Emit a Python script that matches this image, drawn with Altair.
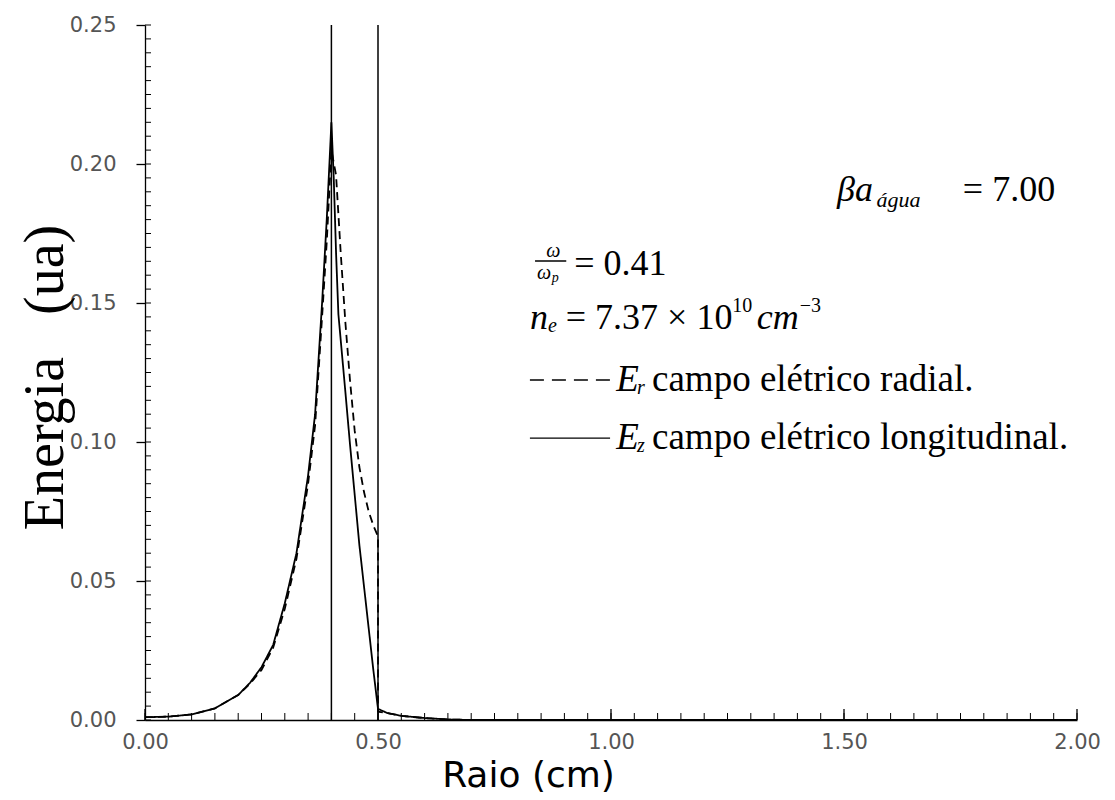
import altair as alt
import pandas as pd
import numpy as np

# ---- data ----
r_ez = [0.00, 0.05, 0.10, 0.15, 0.20, 0.225, 0.25, 0.275, 0.30, 0.325, 0.35, 0.365, 0.38, 0.39, 0.40,
        0.405, 0.41, 0.415, 0.43, 0.44, 0.45, 0.46, 0.47, 0.48, 0.49, 0.50,
        0.52, 0.55, 0.60, 0.65, 0.70, 1.00, 1.50, 2.00]
ez = [0.001, 0.0012, 0.002, 0.0042, 0.009, 0.0133, 0.019, 0.027, 0.042, 0.060, 0.088, 0.110, 0.150, 0.180, 0.215,
      0.195, 0.168, 0.146, 0.118, 0.099, 0.081, 0.063, 0.048, 0.033, 0.018, 0.004,
      0.0025, 0.0015, 0.0007, 0.0002, 0.0, 0.0, 0.0, 0.0]

r_er = [0.00, 0.05, 0.10, 0.15, 0.20, 0.225, 0.25, 0.275, 0.30, 0.325, 0.35, 0.365, 0.38, 0.39, 0.40,
        0.41, 0.42, 0.43, 0.44, 0.45, 0.46, 0.47, 0.48, 0.49, 0.50, 0.50,
        0.52, 0.55, 0.60, 0.65, 0.70, 1.00, 1.50, 2.00]
er = [0.001, 0.0012, 0.002, 0.0042, 0.009, 0.013, 0.018, 0.026, 0.040, 0.058, 0.085, 0.106, 0.145, 0.172, 0.205,
      0.196, 0.168, 0.143, 0.122, 0.104, 0.091, 0.082, 0.075, 0.070, 0.066, 0.003,
      0.0025, 0.0015, 0.0007, 0.0002, 0.0, 0.0, 0.0, 0.0]

boundaries = [0.40, 0.50]
x_ticks = [0.0, 0.5, 1.0, 1.5, 2.0]
y_ticks = [0.00, 0.05, 0.10, 0.15, 0.20, 0.25]

W, H = 932, 695

df = pd.concat([
    pd.DataFrame({"r": r_er, "E": er, "serie": "Er", "i": range(len(r_er))}),
    pd.DataFrame({"r": r_ez, "E": ez, "serie": "Ez", "i": range(len(r_ez))}),
])

xs = alt.Scale(domain=[0, 2], nice=False, zero=False)
ys = alt.Scale(domain=[0, 0.25], nice=False, zero=False)

NB = "\u00a0"
tick_font = "DejaVu Sans"
xaxis = alt.Axis(values=x_ticks, format=".2f", ticks=False, grid=False, domainColor="black",
                 domainWidth=1.3, labelFont=tick_font, labelFontSize=21, labelColor="#555",
                 labelPadding=11, title="Raio (cm)", titleFont="DejaVu Sans", titleFontSize=36,
                 titleFontWeight="normal", titleColor="black", titleX=383, titleY=55,
                 titleBaseline="middle", labelFlush=False)
yaxis = alt.Axis(values=y_ticks, format=".2f", tickSize=9, tickColor="black", tickWidth=1.3,
                 grid=False, domainColor="black", domainWidth=1.3, labelFont=tick_font,
                 labelFontSize=21, labelColor="#555", labelPadding=20,
                 title="Energia" + NB * 3 + "(ua)",
                 titleFont="Liberation Serif", titleFontSize=56, titleFontWeight="normal",
                 titleColor="black", titleX=-100, titleY=352, titleBaseline="middle",
                 titleAngle=270)

X = lambda f: alt.X(f, scale=xs, axis=xaxis)
Y = lambda f: alt.Y(f, scale=ys, axis=yaxis)

lines = alt.Chart(df).mark_line(color="black", strokeWidth=1.8).encode(
    x=X("r:Q"),
    y=Y("E:Q"),
    strokeDash=alt.StrokeDash("serie:N", scale=alt.Scale(domain=["Er", "Ez"], range=[[8, 5], [1, 0]]),
                              legend=None),
    order="i:Q",
    detail="serie:N",
)

vdf = pd.DataFrame({"r": boundaries, "lo": [0.0] * len(boundaries), "hi": [0.25] * len(boundaries)})
vlines = alt.Chart(vdf).mark_rule(color="black", strokeWidth=1.5).encode(
    x=X("r:Q"), y=Y("lo:Q"), y2="hi:Q",
)

# minor inward ticks
yt = np.round(np.arange(0, 0.2501, 0.005), 4)
ytick_layer = alt.Chart(pd.DataFrame({"v": yt})).mark_rule(color="black", strokeWidth=1).encode(
    y=Y("v:Q"), x=alt.value(0), x2=alt.value(6))
xt = np.round(np.arange(0, 2.0001, 0.05), 3)
xtick_layer = alt.Chart(pd.DataFrame({"v": xt})).mark_rule(color="black", strokeWidth=1).encode(
    x=X("v:Q"), y=alt.value(H), y2=alt.value(H - 7))
xmaj_layer = alt.Chart(pd.DataFrame({"v": x_ticks})).mark_rule(color="black", strokeWidth=1.3).encode(
    x=X("v:Q"), y=alt.value(H), y2=alt.value(H - 11))

# annotations (placed in data units)
ann = pd.DataFrame([
    ("βa", 1.485, 0.1906, 36, "italic"),
    ("água", 1.570, 0.1870, 22, "italic"),
    ("= 7.00", 1.755, 0.1906, 36, "normal"),
    ("ω", 0.861, 0.1687, 20, "italic"),
    ("ω", 0.841, 0.1608, 20, "italic"),
    ("p", 0.873, 0.1590, 14, "italic"),
    ("= 0.41", 0.921, 0.1640, 36, "normal"),
    ("n", 0.826, 0.1446, 36, "italic"),
    ("e", 0.865, 0.1417, 20, "italic"),
    ("= 7.37 × 10", 0.903, 0.1446, 36, "normal"),
    ("10", 1.260, 0.1489, 20, "normal"),
    ("cm", 1.313, 0.1446, 36, "italic"),
    ("−3", 1.405, 0.1489, 20, "normal"),
    ("E", 1.011, 0.1223, 37, "italic"),
    ("r", 1.056, 0.1194, 20, "italic"),
    ("campo elétrico radial.", 1.088, 0.1223, 37, "normal"),
    ("E", 1.011, 0.1014, 37, "italic"),
    ("z", 1.056, 0.0986, 20, "italic"),
    ("campo elétrico longitudinal.", 1.088, 0.1014, 37, "normal"),
], columns=["t", "r", "E", "s", "style"])

def text_layer(style):
    return alt.Chart(ann[ann["style"] == style]).mark_text(
        font="Liberation Serif", fontStyle=style, align="left", baseline="middle", color="black"
    ).encode(
        x=X("r:Q"),
        y=Y("E:Q"),
        text="t:N",
        size=alt.Size("s:Q", scale=None, legend=None),
    )

ann_rules = pd.DataFrame([
    (0.837, 0.904, 0.1651, "solid"),
    (0.826, 0.998, 0.1223, "dash"),
    (0.826, 0.998, 0.1014, "solid"),
], columns=["r", "r2", "E", "kind"])
rule_layer = alt.Chart(ann_rules).mark_rule(color="black", strokeWidth=1.4).encode(
    x=X("r:Q"),
    x2="r2:Q",
    y=Y("E:Q"),
    strokeDash=alt.StrokeDash("kind:N", scale=alt.Scale(domain=["dash", "solid"], range=[[14, 8], [1, 0]]),
                              legend=None),
)

chart = alt.layer(
    lines, vlines, ytick_layer, xtick_layer, xmaj_layer, text_layer("italic"), text_layer("normal"), rule_layer
).properties(
    width=W, height=H,
    background="white",
    autosize=alt.AutoSizeParams(type="none"),
    padding={"left": 137, "top": 17, "right": 30, "bottom": 75},
).resolve_scale(strokeDash="independent").configure_view(stroke=None)

chart.save("out.html", embed_options={"renderer": "svg", "actions": False})
